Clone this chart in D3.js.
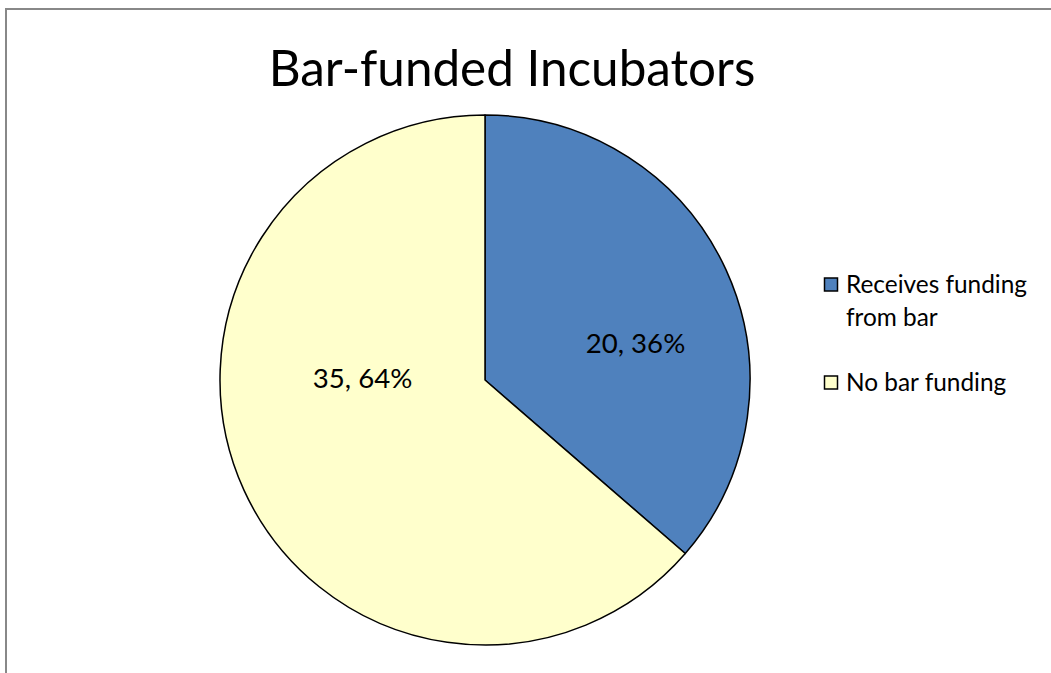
<!DOCTYPE html>
<html><head><meta charset="utf-8">
<script src="https://cdn.jsdelivr.net/npm/d3@7"></script>
<style>body{margin:0;background:#fff}svg{display:block}</style>
</head><body>
<svg id="c" width="1051" height="673"></svg>
<script>
const title = "Bar-funded Incubators";
const categories = ["Receives funding from bar", "No bar funding"];
const values = [20, 35];
const percents = ["36%", "64%"];
const colors = ["#4F81BD", "#FFFFCC"];
const legendLines = [["Receives funding", "from bar"], ["No bar funding"]];

const W = 1051, H = 673;
const svg = d3.select("#c");
const font = "Lato, 'Open Sans', sans-serif";

// chart border
svg.append("rect").attr("x", 6).attr("y", 9).attr("width", W + 10).attr("height", H + 10)
  .attr("fill", "#fff").attr("stroke", "#888").attr("stroke-width", 2);

svg.append("text").attr("x", 512).attr("y", 86).attr("text-anchor", "middle")
  .attr("font-family", font).attr("font-size", 49.4).attr("fill", "#000").text(title);

const cx = 485, cy = 380, R = 265;
const pie = d3.pie().sort(null).value(d => d)(values);
const arc = d3.arc().innerRadius(0).outerRadius(R);
const g = svg.append("g").attr("transform", `translate(${cx},${cy})`);
g.selectAll("path").data(pie).join("path")
  .attr("d", arc).attr("fill", (d, i) => colors[i])
  .attr("stroke", "#000").attr("stroke-width", 1.5).attr("stroke-linejoin", "round");

// label offsets relative to radius (layout)
const labelOffsets = [[0.568, -0.140], [-0.462, -0.008]];
g.selectAll("text.lbl").data(pie).join("text").attr("class", "lbl")
  .attr("x", (d, i) => labelOffsets[i][0] * R)
  .attr("y", (d, i) => labelOffsets[i][1] * R)
  .attr("dy", "0.36em").attr("text-anchor", "middle")
  .attr("font-family", font).attr("font-size", 27.6).attr("fill", "#000")
  .text((d, i) => `${values[i]}, ${percents[i]}`);

const legendY = [284.5, 382.5];
const lg = svg.append("g");
categories.forEach((c, i) => {
  lg.append("rect").attr("x", 824.5).attr("y", legendY[i] - 6.5).attr("width", 13).attr("height", 13)
    .attr("fill", colors[i]).attr("stroke", "#000").attr("stroke-width", 1.5);
  legendLines[i].forEach((t, j) => {
    lg.append("text").attr("x", 846).attr("y", legendY[i] + j * 33).attr("dy", "0.35em")
      .attr("font-family", font).attr("font-size", 24.4).attr("fill", "#000").text(t);
  });
});
</script>
</body></html>
